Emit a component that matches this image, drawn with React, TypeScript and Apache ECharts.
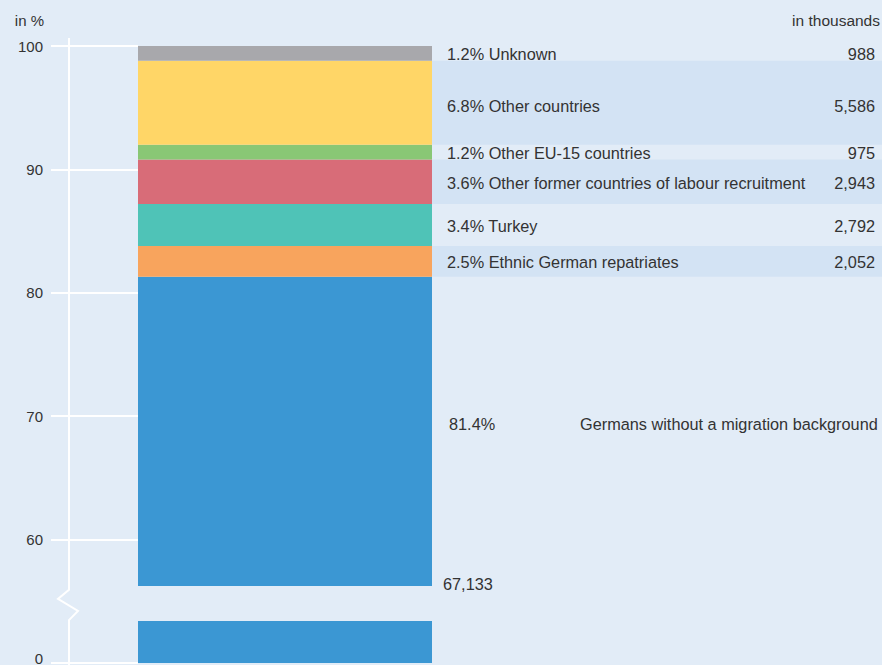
import React, { useEffect, useRef } from "react";
import * as echarts from "echarts";

// ---- data (bottom to top of the stacked bar) ----
const categories = [
  "Germans without a migration background",
  "Ethnic German repatriates",
  "Turkey",
  "Other former countries of labour recruitment",
  "Other EU-15 countries",
  "Other countries",
  "Unknown",
];
const percents = [81.4, 2.5, 3.4, 3.6, 1.2, 6.8, 1.2];
const thousands = [67133, 2052, 2792, 2943, 975, 5586, 988];
const colors = ["#3b97d3", "#f8a45d", "#4fc3b7", "#d86c78", "#89c775", "#ffd667", "#a8a8ac"];
const bandRows = [false, true, false, true, false, true, false];
const yTicks = [0, 60, 70, 80, 90, 100];

// ---- axis break (display units) ----
const AXIS_MIN = 50; // display position of the real value 0
const LOWER_TOP = 53.4; // top of the lower piece of the broken bar
const UPPER_BOTTOM = 56.25; // bottom of the upper piece of the broken bar

const BG = "#e2ecf7";
const BAND = "#d3e3f4";
const TEXT = "#333333";
const FONT = "Liberation Sans";
const FS = 16.3;

const fmt = (n: number) => n.toLocaleString("en-US");

export default function App() {
  const ref = useRef<HTMLDivElement>(null);
  useEffect(() => {
    document.body.style.margin = "0";
    const chart = echarts.init(ref.current!, null, { renderer: "svg" });

    const others = percents.slice(1).reduce((a, b) => a + b, 0);
    const blueTop = 100 - others;
    const stackVals = [
      LOWER_TOP,
      UPPER_BOTTOM - LOWER_TOP,
      blueTop - UPPER_BOTTOM,
      ...percents.slice(1),
    ];
    const mainColors = [colors[0], "transparent", colors[0], ...colors.slice(1)];
    const bandColors = ["transparent", "transparent", "transparent", ...bandRows.slice(1).map((b) => (b ? BAND : "transparent"))];

    const series: any[] = [];
    stackVals.forEach((v, i) => {
      series.push({
        type: "bar",
        stack: "main",
        xAxisIndex: 0,
        yAxisIndex: 0,
        barWidth: 294,
        clip: true,
        data: [v],
        itemStyle: { color: mainColors[i] },
        silent: true,
      });
    });
    stackVals.forEach((v, i) => {
      let label: any = { show: false };
      if (i === 1) {
        label = {
          show: true,
          position: [11, -2],
          align: "left",
          verticalAlign: "middle",
          formatter: fmt(thousands[0]),
          color: TEXT,
          fontFamily: FONT,
          fontSize: FS,
        };
      } else if (i === 2) {
        label = {
          show: true,
          position: "insideLeft",
          distance: 17,
          offset: [0, -7],
          formatter: `{p|${percents[0]}%}{g|${categories[0]}}`,
          rich: {
            p: { width: 131, color: TEXT, fontFamily: FONT, fontSize: FS },
            g: { color: TEXT, fontFamily: FONT, fontSize: FS },
          },
        };
      } else if (i >= 3) {
        const k = i - 2;
        label = {
          show: true,
          position: "insideLeft",
          distance: 15,
          offset: [0, k === 5 ? 3 : 1],
          formatter: `{n|${percents[k]}% ${categories[k]}}{v|${fmt(thousands[k])}}`,
          rich: {
            n: { width: 372, color: TEXT, fontFamily: FONT, fontSize: FS },
            v: { width: 56, align: "right", color: TEXT, fontFamily: FONT, fontSize: FS },
          },
        };
      }
      series.push({
        type: "bar",
        stack: "band",
        xAxisIndex: 1,
        yAxisIndex: 1,
        barWidth: "100%",
        clip: true,
        data: [v],
        itemStyle: { color: bandColors[i] },
        label,
        silent: true,
      });
    });

    // axis line with zigzag break, positioned from the grid layout
    const gridTop = 46;
    const gridH = 665 - 46 - 2;
    const toY = (d: number) => gridTop + ((100 - d) / (100 - AXIS_MIN)) * gridH;
    const yb1 = toY(UPPER_BOTTOM) + 4;
    const yb2 = toY(LOWER_TOP) - 1;
    const ax = 69;
    const zig = [
      [ax, 38],
      [ax, yb1],
      [ax - 11, yb1 + 9],
      [ax + 9, yb1 + 21],
      [ax, yb2],
      [ax, 665],
    ];

    chart.setOption({
      animation: false,
      backgroundColor: BG,
      textStyle: { fontFamily: FONT },
      grid: [
        { left: 51, right: 363, top: gridTop, bottom: 2, outerBoundsMode: "none", containLabel: false },
        { left: 432, right: 0, top: gridTop, bottom: 2, outerBoundsMode: "none", containLabel: false },
      ],
      xAxis: [
        { type: "category", gridIndex: 0, data: ["share"], show: false },
        { type: "category", gridIndex: 1, data: ["share"], show: false },
      ],
      yAxis: [
        {
          type: "value",
          gridIndex: 0,
          min: AXIS_MIN,
          max: 100,
          interval: 10,
          name: "in %",
          nameLocation: "end",
          nameGap: 18,
          nameTextStyle: { align: "right", padding: [0, 7, 0, 0], color: TEXT, fontSize: 15, fontFamily: FONT },
          axisLine: { show: false },
          axisTick: { show: true, inside: true, length: 87, lineStyle: { color: "#ffffff", width: 2 } },
          axisLabel: {
            margin: 8,
            color: TEXT,
            fontSize: 15,
            fontFamily: FONT,
            formatter: (v: number) => {
              if (v === AXIS_MIN) return "{z|0}";
              return yTicks.includes(v) ? String(v) : "";
            },
            rich: {
              z: { color: TEXT, fontSize: 15, fontFamily: FONT, padding: [0, 0, 10, 0] },
            },
          },
          splitLine: { show: false },
        },
        {
          type: "value",
          gridIndex: 1,
          min: AXIS_MIN,
          max: 100,
          interval: 10,
          position: "right",
          name: "in thousands",
          nameLocation: "end",
          nameGap: 18,
          nameTextStyle: { align: "right", padding: [0, 2, 0, 0], color: TEXT, fontSize: 15.5, fontFamily: FONT },
          axisLine: { show: false },
          axisTick: { show: false },
          axisLabel: { show: false },
          splitLine: { show: false },
        },
      ],
      graphic: [
        {
          type: "polyline",
          z: 10,
          shape: { points: zig },
          style: { stroke: "#ffffff", lineWidth: 2, fill: "none" },
          silent: true,
        },
      ],
      series,
    });
    return () => chart.dispose();
  }, []);
  return <div ref={ref} style={{ width: 882, height: 665, background: BG }} />;
}
